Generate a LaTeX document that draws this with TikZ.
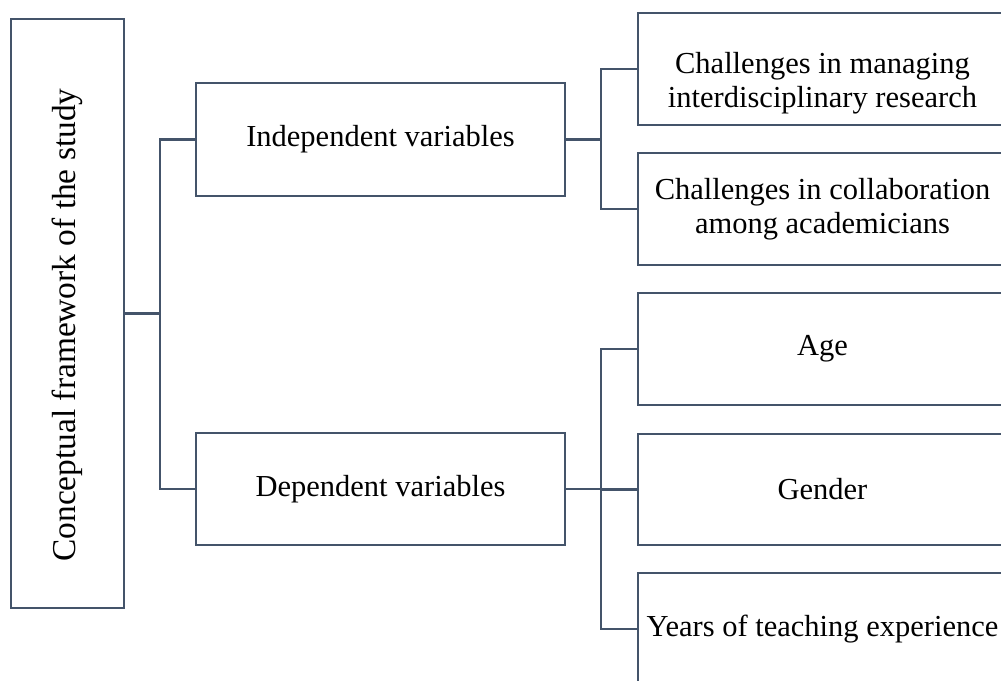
\documentclass[tikz,border=0pt]{standalone}
\usepackage{fontspec}
\setmainfont{Liberation Serif}
\definecolor{linec}{HTML}{44546A}
\begin{document}
\begin{tikzpicture}[x=1pt,y=-1pt,
  box/.style={draw=linec,line width=2.8pt,fill=white,inner sep=0pt,align=center,
    font=\fontsize{30.5}{34}\selectfont,text=black},
  lbl/.style={inner sep=0pt,align=center,font=\fontsize{30.5}{34}\selectfont,text=black},
  conn/.style={draw=linec,line width=2.8pt}]
\useasboundingbox (0,0) rectangle (1001,680);
\clip (0,0) rectangle (1001,680);
\node[box,minimum width=113pt,minimum height=589pt] (L) at (67.5,313.5) {};
\node[rotate=90,lbl,font=\fontsize{33.4}{37}\selectfont] (Lt) at (67.5,325) {Conceptual framework of the study};
\node[box,minimum width=369pt,minimum height=113pt] (I) at (380.5,139.5) {Independent variables};
\node[box,minimum width=369pt,minimum height=112pt] (D) at (380.5,489) {Dependent variables};
\node[box,minimum width=369pt,minimum height=112pt] (R1) at (822.5,69) {};
\node[lbl] (R1t) at (822.5,83) {Challenges in managing\\interdisciplinary research};
\node[box,minimum width=369pt,minimum height=112pt] (R2) at (822.5,209) {Challenges in collaboration\\among academicians};
\node[box,minimum width=369pt,minimum height=112pt] (R3) at (822.5,349) {Age};
\node[box,minimum width=369pt,minimum height=111pt] (R4) at (822.5,489.5) {Gender};
\node[box,minimum width=369pt,minimum height=112pt] (R5) at (822.5,629) {Years of teaching experience};
\coordinate (j1) at (160,313.5);
\coordinate (j2) at (601,139.5);
\coordinate (j3) at (601,489);
\draw[conn] (L.east) -- (j1);
\draw[conn] (j1) |- (I.west);
\draw[conn] (j1) |- (D.west);
\draw[conn] (I.east) -- (j2);
\draw[conn] (j2) |- (R1.west);
\draw[conn] (j2) |- (R2.west);
\draw[conn] (D.east) -- (j3);
\draw[conn] (j3) |- (R3.west);
\draw[conn] (j3) |- (R4.west);
\draw[conn] (j3) |- (R5.west);
\end{tikzpicture}
\end{document}
